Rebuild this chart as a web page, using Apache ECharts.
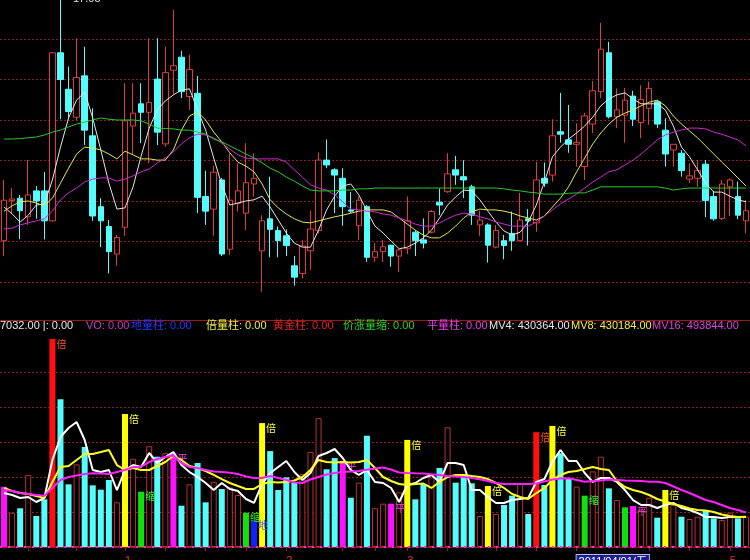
<!DOCTYPE html>
<html><head><meta charset="utf-8">
<script src="https://cdn.jsdelivr.net/npm/echarts@6/dist/echarts.min.js"></script>
<style>html,body{margin:0;padding:0;background:#000;overflow:hidden}#c{width:750px;height:560px}</style>
</head><body><div id="c"></div>
<script>
const dates = ['2010-12-13','2010-12-14','2010-12-15','2010-12-16','2010-12-17','2010-12-20','2010-12-21','2010-12-22','2010-12-23','2010-12-24','2010-12-27','2010-12-28','2010-12-29','2010-12-30','2010-12-31',
'2011-01-04','2011-01-05','2011-01-06','2011-01-07','2011-01-10','2011-01-11','2011-01-12','2011-01-13','2011-01-14','2011-01-17','2011-01-18','2011-01-19','2011-01-20','2011-01-21','2011-01-24','2011-01-25','2011-01-26','2011-01-27','2011-01-28','2011-01-31',
'2011-02-01','2011-02-09','2011-02-10','2011-02-11','2011-02-14','2011-02-15','2011-02-16','2011-02-17','2011-02-18','2011-02-21','2011-02-22','2011-02-23','2011-02-24','2011-02-25','2011-02-28',
'2011-03-01','2011-03-02','2011-03-03','2011-03-04','2011-03-07','2011-03-08','2011-03-09','2011-03-10','2011-03-11','2011-03-14','2011-03-15','2011-03-16','2011-03-17','2011-03-18','2011-03-21','2011-03-22','2011-03-23','2011-03-24','2011-03-25','2011-03-28','2011-03-29',
'2011-04-01','2011-04-06','2011-04-07','2011-04-08','2011-04-11','2011-04-12','2011-04-13','2011-04-14','2011-04-15','2011-04-18','2011-04-19','2011-04-20','2011-04-21','2011-04-22','2011-04-25','2011-04-26','2011-04-27','2011-04-28','2011-04-29',
'2011-05-03','2011-05-04','2011-05-05'];

const openP  = [11.02,12.01,12.07,11.61,12.25,12.25,11.51,15.66,14.76,14.07,15.09,13.61,11.86,11.37,10.69,11.35,13.85,14.40,14.19,15.01,13.41,15.23,15.55,14.58,14.66,12.11,11.80,12.52,10.81,11.94,11.70,12.42,10.77,11.56,11.27,11.14,10.40,10.21,10.77,11.27,13.01,12.77,12.56,11.78,11.39,11.86,10.61,10.75,10.91,10.64,10.82,11.23,11.04,11.23,11.97,12.23,12.77,12.60,12.35,11.41,11.41,10.86,11.02,11.20,11.02,11.56,11.46,12.56,12.64,13.71,13.51,13.40,12.85,13.90,14.70,15.66,14.08,14.12,14.59,13.94,14.29,14.45,13.75,13.26,13.18,12.54,12.56,12.91,12.11,11.57,12.35,12.11,11.51];
const closeP = [12.02,12.05,11.76,12.15,12.00,11.51,15.66,15.00,14.21,15.05,13.75,11.63,11.51,10.75,11.10,13.98,14.17,14.19,14.43,13.70,15.17,15.34,14.70,15.25,12.09,11.75,12.71,10.69,12.02,12.25,12.45,12.56,11.51,11.30,11.02,10.90,10.12,10.89,11.31,13.01,12.89,12.64,11.86,11.75,12.02,10.61,10.75,10.87,10.64,10.79,11.51,11.02,10.96,11.74,11.90,12.67,12.64,12.52,11.65,11.53,10.91,11.27,10.90,11.02,11.53,11.51,12.52,12.44,13.61,13.65,13.40,13.45,14.10,14.72,15.75,14.08,14.25,14.49,14.02,14.51,14.78,13.90,13.16,13.40,12.75,12.62,12.75,12.01,11.56,12.42,12.52,11.65,11.76];
const lowP   = [10.64,11.70,11.06,11.41,11.56,11.05,11.49,14.02,14.02,14.00,13.38,11.51,10.86,10.21,10.40,11.14,13.14,13.43,12.93,13.38,13.34,14.63,14.54,14.25,11.70,11.41,11.14,10.64,10.67,11.74,11.28,12.11,9.76,10.61,10.61,10.64,9.91,10.09,10.30,11.20,12.81,11.70,11.39,11.70,11.04,10.50,10.50,10.50,10.38,10.25,10.69,10.64,10.83,11.20,11.65,12.20,12.40,12.07,11.41,11.14,10.48,10.83,10.56,10.77,11.00,10.90,11.24,12.35,12.48,13.44,13.19,12.85,12.52,13.67,14.54,14.04,13.80,13.44,13.85,13.55,13.88,13.80,12.85,12.85,12.60,12.44,12.35,11.60,11.51,11.53,11.63,11.55,11.20];
const highP  = [12.52,12.32,12.15,13.01,12.37,12.72,15.68,17.05,15.32,16.02,15.81,14.29,12.07,11.53,11.16,14.91,14.91,14.91,16.02,16.02,15.81,16.72,15.71,15.61,15.09,12.75,12.87,12.57,13.18,12.93,13.43,13.18,11.65,12.60,11.37,11.30,10.64,11.04,11.76,13.20,13.52,12.81,12.81,12.22,12.11,11.90,10.96,11.04,10.92,10.81,12.11,11.28,11.57,11.78,12.31,13.18,13.11,13.01,12.40,11.76,11.45,11.41,11.16,11.74,12.20,11.80,12.97,12.95,14.02,14.67,14.37,13.92,14.17,14.96,16.40,15.93,14.78,14.79,14.72,14.86,14.95,14.49,14.04,13.41,13.26,12.93,13.01,13.01,12.25,12.52,12.56,12.48,12.02];

const ma5  = [11.85,11.68,11.48,11.65,11.90,11.93,12.52,13.33,14.05,14.49,14.69,14.05,13.26,12.44,11.80,11.83,12.35,13.11,13.80,14.25,14.47,14.62,14.74,14.77,14.25,13.75,13.06,12.40,11.90,11.95,12.00,12.03,12.12,11.85,11.53,11.21,10.96,10.86,10.86,11.28,11.78,12.12,12.37,12.42,12.15,11.75,11.38,11.21,11.01,10.82,10.86,10.96,11.09,11.28,11.58,11.90,12.10,12.27,12.25,12.03,11.75,11.48,11.26,11.16,11.23,11.48,11.90,12.47,13.09,13.33,13.53,13.68,13.85,14.07,14.35,14.52,14.62,14.67,14.52,14.40,14.40,14.40,14.25,13.85,13.33,13.09,12.77,12.44,12.22,12.22,12.12,12.03,11.98];
const ma10 = [11.75,11.88,11.98,12.00,11.95,11.88,12.07,12.44,12.81,13.16,13.33,13.31,13.26,13.16,13.04,13.23,13.14,13.04,13.04,13.01,13.01,13.26,13.75,14.10,14.20,14.00,13.70,13.46,13.19,12.96,12.86,12.72,12.42,12.03,11.83,11.68,11.56,11.48,11.46,11.51,11.56,11.61,11.65,11.70,11.75,11.78,11.78,11.78,11.73,11.58,11.43,11.28,11.16,11.09,11.09,11.21,11.38,11.58,11.73,11.80,11.78,11.78,11.75,11.70,11.63,11.58,11.53,11.63,11.85,12.07,12.35,12.72,13.06,13.41,13.68,13.90,14.07,14.17,14.25,14.35,14.44,14.49,14.35,14.10,13.90,13.73,13.56,13.36,13.16,12.96,12.77,12.57,12.37];
const ma20 = [11.31,11.33,11.41,11.46,11.51,11.56,11.75,12.03,12.20,12.32,12.47,12.54,12.57,12.57,12.49,12.54,12.62,12.72,12.79,12.94,13.06,13.21,13.41,13.56,13.65,13.63,13.56,13.43,13.28,13.14,13.06,13.04,13.04,13.04,13.04,12.96,12.77,12.59,12.40,12.32,12.27,12.15,11.98,11.80,11.78,11.75,11.73,11.68,11.65,11.58,11.51,11.43,11.38,11.38,11.46,11.56,11.65,11.70,11.68,11.61,11.56,11.48,11.43,11.38,11.38,11.38,11.48,11.63,11.78,11.93,12.05,12.17,12.32,12.47,12.59,12.72,12.77,12.89,13.01,13.16,13.33,13.51,13.63,13.70,13.75,13.80,13.80,13.78,13.70,13.65,13.58,13.51,13.36];
const ma60 = [13.53,13.53,13.54,13.56,13.58,13.63,13.70,13.75,13.83,13.90,13.95,14.00,14.05,14.02,14.00,14.00,14.00,13.98,13.90,13.80,13.79,13.78,13.75,13.75,13.70,13.65,13.53,13.46,13.36,13.26,13.16,13.06,12.94,12.81,12.72,12.59,12.49,12.37,12.27,12.25,12.25,12.25,12.27,12.27,12.30,12.30,12.32,12.32,12.32,12.32,12.32,12.32,12.32,12.32,12.32,12.32,12.32,12.32,12.32,12.32,12.32,12.32,12.30,12.27,12.25,12.22,12.20,12.17,12.17,12.17,12.19,12.20,12.20,12.27,12.35,12.35,12.35,12.35,12.35,12.35,12.35,12.35,12.32,12.27,12.30,12.32,12.32,12.32,12.32,12.32,12.32,12.32,12.32];

const volume = [860000,490000,553000,1030000,443000,681000,2970000,2110000,895000,1180000,1430000,881000,819000,957000,638000,1900000,1260000,790000,1440000,1290000,1340000,1340000,590000,895000,1200000,638000,933000,829000,852000,743000,490000,376000,1770000,1370000,814000,995000,919000,1040000,1360000,1840000,1110000,1270000,1230000,704000,919000,1590000,553000,619000,619000,781000,1530000,681000,900000,995000,1130000,1710000,919000,1040000,910000,443000,871000,471000,600000,733000,900000,471000,1640000,886000,1730000,1340000,981000,862000,733000,1080000,1290000,838000,671000,567000,586000,538000,704000,419000,814000,600000,433000,400000,433000,519000,410000,386000,490000,410000,435000];
const volType = ['M','u','d','u','d','d','R','d','d','u','d','d','d','d','u','Y','u','G','u','d','u','M','d','u','d','d','u','d','u','u','G','B','Y','d','d','d','d','u','u','u','d','d','M','d','u','d','u','u','M','u','Y','d','d','u','d','u','d','d','d','u','Y','u','d','d','u','d','R','d','Y','d','d','u','G','u','u','d','u','G','M','u','u','d','Y','u','d','u','u','d','d','u','u','d','u'];
const barMarks = {6:'倍',15:'倍',17:'缩',21:'平',30:'缩',31:'地',32:'倍',42:'平',48:'平',50:'倍',60:'倍',66:'倍',68:'倍',72:'缩',78:'平',82:'倍'};
const mv4  = [771000,743000,700000,714000,643000,700000,1243000,1571000,1700000,1786000,1529000,1100000,1071000,1100000,814000,1100000,1171000,1143000,1343000,1200000,1286000,1357000,1171000,1071000,1000000,914000,814000,914000,829000,800000,686000,629000,900000,1057000,1143000,1229000,1071000,957000,1057000,1300000,1343000,1400000,1271000,1100000,1029000,1100000,929000,914000,843000,643000,886000,914000,986000,1029000,929000,1200000,1200000,1171000,814000,814000,714000,629000,629000,671000,686000,700000,929000,971000,1214000,1386000,1229000,1229000,1057000,929000,986000,986000,929000,814000,671000,600000,600000,557000,600000,629000,557000,529000,486000,429000,429000,414000,429000,429000,430364];
const mv8  = [843000,800000,771000,757000,729000,700000,929000,1143000,1157000,1243000,1329000,1329000,1357000,1386000,1171000,1100000,1129000,1100000,1100000,1157000,1214000,1300000,1243000,1157000,1129000,1086000,1029000,971000,914000,871000,829000,829000,900000,929000,921000,929000,950000,1000000,1100000,1243000,1214000,1207000,1214000,1207000,1214000,1243000,1129000,1000000,943000,900000,886000,900000,907000,843000,929000,1000000,1029000,1029000,1014000,1000000,971000,914000,843000,757000,714000,686000,771000,843000,957000,1029000,1071000,1086000,1114000,1143000,1114000,1100000,943000,857000,814000,786000,743000,686000,650000,614000,586000,550000,529000,521000,500000,464000,443000,429000,430184];
const mv16 = [814000,800000,771000,757000,743000,733000,843000,957000,1000000,1021000,1043000,1052000,1050000,1043000,1071000,1100000,1143000,1147000,1214000,1257000,1286000,1307000,1200000,1143000,1129000,1100000,1079000,1071000,1062000,1043000,1007000,986000,986000,1014000,986000,957000,921000,914000,964000,1000000,1036000,1057000,1071000,1079000,1086000,1105000,1121000,1136000,1107000,1064000,1057000,1053000,1050000,1039000,1029000,1014000,1007000,1000000,986000,967000,943000,914000,900000,900000,900000,900000,907000,936000,964000,979000,981000,957000,933000,943000,950000,964000,957000,950000,948000,943000,933000,933000,914000,864000,814000,771000,721000,671000,643000,600000,557000,529000,493844];

const tickIdx = [3,9,15,20,25,30,35,42,46,50,55,61,66,71,80,85,90];
const cursorDate = '2011-04-01';
const cursorWeekday = '五';

const FONT = "'Liberation Sans','Noto Sans CJK SC',sans-serif";
const C = {
  up:'#e03c3c', down:'#54fcfc', hollow:'#b83232',
  R:'#ff1010', Y:'#ffff00', G:'#10e010', M:'#ff10ff', B:'#1020ff',
  grid:'#8a2020', axis:'#a01818'
};
const markColor = {R:'#ff5030', Y:'#ffff40', G:'#30ff30', M:'#ff40ff', B:'#4060ff'};

const volData = volume.map((v, i) => {
  const t = volType[i];
  let itemStyle;
  if (t === 'u') itemStyle = {color:'#000', borderColor:C.hollow, borderWidth:1};
  else if (t === 'd') itemStyle = {color:C.down};
  else itemStyle = {color:C[t]};
  const item = {value:v, itemStyle};
  if (barMarks[i]) {
    item.label = {show:true, formatter:barMarks[i], position:[7,1], color:markColor[t],
      fontSize:10, fontFamily:FONT};
  }
  return item;
});

function axisLabelFmt(value, index) {
  if (value === cursorDate) {
    return '{box|' + value.replace(/-/g,'/') + '/' + cursorWeekday + '}';
  }
  if (index > 0 && value.slice(5,7) !== dates[index-1].slice(5,7)) {
    return '{m|' + String(parseInt(value.slice(5,7),10)) + '}';
  }
  return '';
}

const lastTxt = arr => arr[arr.length-1].toFixed(2);
const legendItems = [
  {t:'7032.00 |: 0.00', x:0, c:'#e8e8e8'},
  {t:'VO: 0.00', x:86, c:'#c83cc8'},
  {t:'地量柱: 0.00', x:131, c:'#2438ff'},
  {t:'倍量柱: 0.00', x:206, c:'#f0f040'},
  {t:'黄金柱: 0.00', x:273, c:'#e82020'},
  {t:'价涨量缩: 0.00', x:343, c:'#30d030'},
  {t:'平量柱: 0.00', x:427, c:'#e840e8'},
  {t:'MV4: ' + lastTxt(mv4), x:489, c:'#e8e8e8'},
  {t:'MV8: ' + lastTxt(mv8), x:571, c:'#f0f040'},
  {t:'MV16: ' + lastTxt(mv16), x:652, c:'#e040e0'}
];

const graphic = [
  {type:'line', shape:{x1:0, y1:320.5, x2:750, y2:320.5}, style:{stroke:'#9a1818', lineWidth:1}, z:10},
  {type:'text', x:73, y:-7, style:{text:highP[7].toFixed(2), fill:'#e0e0e0', font:'11px ' + FONT}, z:10}
].concat(legendItems.map(it => ({
  type:'text', x:it.x, y:326, z:10,
  style:{text:it.t, fill:it.c, font:'11px ' + FONT, verticalAlign:'middle', align:'left'}
})));

const chart = echarts.init(document.getElementById('c'), null, {renderer:'canvas'});
chart.setOption({
  backgroundColor:'#000',
  animation:false,
  grid:[
    {left:0, width:750, top:-1.5, height:324, outerBoundsMode:'none', containLabel:false},
    {left:0, width:750, top:337, height:210, outerBoundsMode:'none', containLabel:false}
  ],
  xAxis:[
    {type:'category', gridIndex:0, data:dates, show:false, boundaryGap:true},
    {type:'category', gridIndex:1, data:dates, boundaryGap:true, offset:6,
      axisLine:{show:true, lineStyle:{color:C.axis, width:1}},
      axisTick:{show:true, alignWithLabel:true, length:4, interval:(i)=>tickIdx.includes(i), lineStyle:{color:C.axis}},
      axisLabel:{show:true, interval:0, align:'left', margin:2, formatter:axisLabelFmt, fontSize:11, fontFamily:FONT,
        color:'#e03030', hideOverlap:false,
        rich:{
          m:{color:'#e03030', fontSize:11, fontFamily:FONT},
          box:{color:'#ffffff', backgroundColor:'#1c1c96', borderColor:'#b8b8d8', borderWidth:1, padding:[1,2,0,2], fontSize:11, fontFamily:FONT}
        }},
      splitLine:{show:false}}
  ],
  yAxis:[
    {type:'value', gridIndex:0, min:9, max:17, interval:1,
      axisLine:{show:false}, axisTick:{show:false}, axisLabel:{show:false},
      splitLine:{show:true, showMinLine:false, showMaxLine:false, lineStyle:{color:C.grid, type:[2,2], width:1}}},
    {type:'value', gridIndex:1, min:0, max:3000000, interval:500000,
      axisLine:{show:false}, axisTick:{show:false}, axisLabel:{show:false},
      splitLine:{show:true, showMinLine:false, showMaxLine:false, lineStyle:{color:C.grid, type:[2,2], width:1}}}
  ],
  series:[
    {type:'candlestick', name:'K', xAxisIndex:0, yAxisIndex:0, barWidth:6,
      data: openP.map((o,i)=>[o, closeP[i], lowP[i], highP[i]]),
      itemStyle:{color:'#000', color0:C.down, borderColor:C.up, borderColor0:C.down, borderWidth:1}, z:2},
    {type:'line', name:'MA5', xAxisIndex:0, yAxisIndex:0, data:ma5, symbol:'none', lineStyle:{color:'#e6e6e6', width:1}, z:3},
    {type:'line', name:'MA10', xAxisIndex:0, yAxisIndex:0, data:ma10, symbol:'none', lineStyle:{color:'#e6e650', width:1}, z:3},
    {type:'line', name:'MA20', xAxisIndex:0, yAxisIndex:0, data:ma20, symbol:'none', lineStyle:{color:'#d02ad0', width:1}, z:3},
    {type:'line', name:'MA60', xAxisIndex:0, yAxisIndex:0, data:ma60, symbol:'none', lineStyle:{color:'#2cc82c', width:1}, z:3},
    {type:'bar', name:'VOL', xAxisIndex:1, yAxisIndex:1, barWidth:6, data:volData, z:2,
      markLine:{silent:true, symbol:'none', label:{show:false}, data:[{yAxis:0}],
        lineStyle:{color:'#ff20ff', type:[2,6], width:2}}},
    {type:'line', name:'MV4', xAxisIndex:1, yAxisIndex:1, data:mv4, symbol:'none', lineStyle:{color:'#ffffff', width:2}, z:4},
    {type:'line', name:'MV8', xAxisIndex:1, yAxisIndex:1, data:mv8, symbol:'none', lineStyle:{color:'#ffff20', width:2}, z:4},
    {type:'line', name:'MV16', xAxisIndex:1, yAxisIndex:1, data:mv16, symbol:'none', lineStyle:{color:'#ff20ff', width:2}, z:4}
  ],
  graphic: graphic
});
</script>
</body></html>
